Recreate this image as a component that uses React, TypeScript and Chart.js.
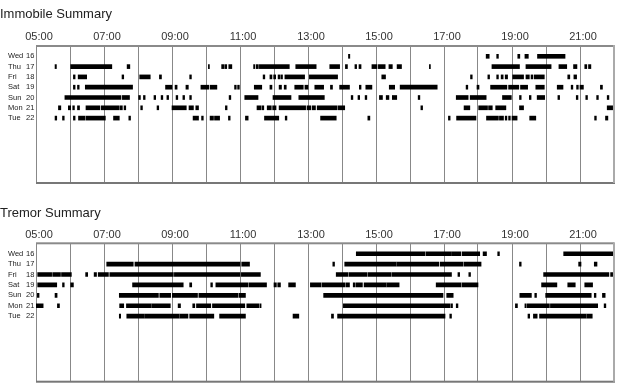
import React, { useEffect, useRef } from 'react';
import { Chart, registerables } from 'chart.js';

Chart.register(...registerables);

// ---------- labels ----------
const dayNames = ['Wed', 'Thu', 'Fri', 'Sat', 'Sun', 'Mon', 'Tue'];
const dayDates = ['16', '17', '18', '19', '20', '21', '22'];
const labeledHours = [5, 7, 9, 11, 13, 15, 17, 19, 21];
const hourLabels = ['05:00', '07:00', '09:00', '11:00', '13:00', '15:00', '17:00', '19:00', '21:00'];
const axisStart = 5;
const axisEnd = 22;

// ---------- Immobile Summary (hours of day, [start, end]) ----------
const immWed = [[14.19, 14.23], [18.24, 18.33], [18.55, 18.6], [19.17, 19.23], [19.38, 19.48], [19.75, 20.56]];
const immThu = [[5.56, 5.6], [6.02, 7.23], [7.68, 7.76], [10.07, 10.1], [10.46, 10.52], [10.55, 10.61], [10.67, 10.76], [11.4, 11.44], [11.48, 11.54], [11.57, 12.45], [12.64, 13.24], [13.64, 13.93], [14.1, 14.16], [14.38, 14.43], [14.5, 14.56], [14.88, 15.03], [15.07, 15.27], [15.38, 15.48], [15.62, 15.75], [16.57, 16.6], [18.41, 19.22], [19.41, 20.15], [20.38, 20.61], [20.81, 20.91], [21.14, 21.2], [21.25, 21.32]];
const immFri = [[6.1, 6.15], [6.24, 6.49], [7.53, 7.58], [8.05, 8.36], [8.63, 8.69], [9.52, 9.57], [11.68, 11.73], [11.88, 11.94], [11.99, 12.05], [12.12, 12.17], [12.2, 12.25], [12.32, 12.9], [13.04, 13.87], [15.17, 15.28], [17.78, 17.83], [18.29, 18.34], [18.55, 18.6], [18.68, 18.74], [18.8, 18.87], [19.02, 19.34], [19.41, 19.51], [19.56, 19.61], [19.65, 19.95], [20.64, 20.7], [20.82, 20.9]];
const immSat = [[6.1, 6.15], [6.22, 6.27], [6.45, 7.84], [8.81, 9.0], [9.09, 9.15], [9.41, 9.48], [9.85, 10.08], [10.12, 10.32], [10.84, 10.89], [10.93, 10.98], [11.42, 11.64], [11.88, 11.94], [12.15, 12.22], [12.3, 12.36], [12.61, 12.86], [12.91, 13.0], [13.2, 13.46], [13.66, 13.72], [13.93, 14.22], [14.51, 14.56], [14.7, 14.88], [15.39, 15.55], [15.71, 16.8], [17.65, 17.7], [17.97, 18.03], [18.37, 18.85], [18.9, 19.2], [19.25, 19.46], [19.7, 19.95], [20.33, 20.5], [20.74, 20.79], [20.9, 20.95], [21.0, 21.1], [21.6, 21.66]];
const immSun = [[5.85, 7.5], [7.54, 7.75], [8.02, 8.07], [8.16, 8.21], [8.47, 8.52], [8.68, 8.73], [8.85, 8.9], [9.12, 9.17], [9.32, 9.37], [9.52, 9.57], [10.68, 10.73], [11.14, 11.53], [11.97, 12.5], [12.73, 13.48], [14.27, 14.32], [14.47, 14.52], [14.68, 14.73], [15.1, 15.19], [15.3, 15.38], [15.48, 15.61], [16.24, 16.29], [17.36, 17.71], [17.77, 18.24], [18.72, 18.98], [19.22, 19.27], [19.51, 19.56], [19.74, 19.96], [20.35, 20.4], [20.89, 20.94], [21.17, 21.22], [21.49, 21.54], [21.8, 21.85]];
const immMon = [[5.66, 5.73], [5.95, 6.02], [6.08, 6.13], [6.22, 6.28], [6.47, 6.88], [6.92, 7.45], [7.48, 7.54], [7.59, 7.64], [8.08, 8.13], [8.56, 8.61], [9.0, 9.42], [9.5, 9.63], [9.7, 9.78], [10.57, 10.62], [11.5, 11.62], [11.65, 11.7], [11.8, 11.92], [11.96, 12.06], [12.15, 12.93], [12.97, 13.08], [13.12, 13.22], [13.27, 13.85], [13.88, 14.08], [16.32, 16.37], [17.59, 17.76], [18.02, 18.28], [18.31, 18.42], [18.52, 18.82], [19.22, 19.34], [21.8, 21.96]];
const immTue = [[5.56, 5.61], [5.78, 5.83], [6.1, 6.15], [6.25, 6.44], [6.47, 7.04], [7.28, 7.45], [7.73, 7.78], [9.62, 9.78], [9.87, 9.92], [10.12, 10.22], [10.25, 10.4], [10.66, 10.71], [11.16, 11.24], [11.72, 12.14], [12.33, 12.38], [13.37, 13.83], [14.76, 14.82], [17.13, 17.18], [17.37, 17.94], [18.25, 18.6], [18.63, 18.75], [18.8, 18.85], [18.9, 18.95], [19.0, 19.15], [19.52, 19.7], [21.43, 21.48], [21.75, 21.82]];

// ---------- Tremor Summary ----------
const trWed = [[14.42, 16.44], [16.47, 17.2], [17.22, 17.49], [17.53, 18.05], [18.15, 18.25], [18.58, 18.63], [20.52, 21.98]];
const trThu = [[7.08, 7.86], [7.91, 11.0], [11.05, 11.28], [13.73, 13.78], [14.08, 15.59], [15.61, 16.85], [16.89, 17.56], [17.59, 18.09], [19.22, 19.27], [20.96, 21.03], [21.42, 21.5]];
const trFri = [[5.05, 5.46], [5.49, 5.72], [5.75, 6.04], [6.46, 6.52], [6.71, 6.78], [6.83, 7.13], [7.17, 9.04], [9.07, 11.0], [11.04, 11.6], [13.83, 14.18], [14.21, 14.73], [14.76, 15.45], [15.48, 17.22], [17.41, 17.46], [17.73, 17.78], [19.93, 21.85], [21.9, 21.96]];
const trSat = [[5.05, 5.61], [5.78, 5.83], [6.02, 6.1], [7.84, 9.33], [9.52, 9.58], [10.14, 10.19], [10.29, 11.24], [11.27, 11.78], [12.0, 12.07], [12.11, 12.19], [12.43, 12.63], [13.07, 13.38], [13.41, 14.08], [14.11, 14.22], [14.33, 14.39], [14.42, 14.6], [14.65, 15.3], [15.32, 15.68], [16.77, 17.5], [17.53, 18.0], [19.87, 20.32], [20.64, 20.86], [21.14, 21.37]];
const trSun = [[5.04, 5.09], [5.56, 5.62], [7.45, 8.6], [8.64, 8.96], [9.01, 9.75], [9.79, 10.94], [10.97, 11.16], [13.46, 16.97], [17.08, 17.27], [19.23, 19.57], [19.67, 19.72], [19.99, 21.33], [21.42, 21.47], [21.66, 21.74]];
const trMon = [[5.0, 5.21], [5.63, 5.69], [7.46, 7.58], [7.66, 8.39], [8.41, 8.95], [9.18, 9.25], [9.61, 9.67], [9.72, 10.14], [10.19, 11.14], [11.2, 11.56], [11.59, 11.62], [14.04, 17.17], [17.2, 17.25], [17.36, 17.41], [19.1, 19.16], [19.38, 19.42], [19.45, 20.1], [20.13, 21.52], [21.71, 21.76]];
const trTue = [[7.45, 7.49], [7.67, 8.19], [8.21, 9.21], [9.23, 9.47], [9.52, 10.23], [10.4, 11.16], [12.56, 12.73], [13.69, 13.75], [13.87, 17.03], [17.17, 17.22], [19.47, 19.52], [19.63, 19.74], [19.81, 21.18], [21.2, 21.36]];

const immobileRows = [immWed, immThu, immFri, immSat, immSun, immMon, immTue];
const tremorRows = [trWed, trThu, trFri, trSat, trSun, trMon, trTue];

const FONT = "'Liberation Sans', Arial, sans-serif";

const framePlugin = {
  id: 'frame',
  afterDatasetsDraw(chart: any) {
    const { ctx, chartArea: a } = chart;
    ctx.save();
    ctx.fillStyle = '#8a8a8a';
    ctx.fillRect(a.left, a.top - 1, a.right - a.left, 2);
    ctx.fillStyle = '#777';
    ctx.fillRect(a.left, a.bottom - 1, a.right - a.left + 1, 2);
    ctx.fillStyle = '#aaa';
    ctx.fillRect(a.right - 1, a.top - 1, 2, a.bottom - a.top + 1);
    ctx.restore();
  },
};

const rowLabelPlugin = {
  id: 'rowLabels',
  afterDraw(chart: any) {
    const { ctx } = chart;
    const y = chart.scales.y;
    ctx.save();
    ctx.fillStyle = '#222';
    ctx.font = `7.5px ${FONT}`;
    ctx.textBaseline = 'middle';
    ctx.textAlign = 'left';
    dayNames.forEach((d, i) => {
      const py = y.getPixelForValue(i);
      ctx.fillText(d, 8, py);
      ctx.fillText(dayDates[i], 26, py);
    });
    ctx.restore();
  },
};

function Panel(props: { title: string; rows: number[][][]; height: number; padTop: number; padBottom: number; bottom: number }) {
  const ref = useRef<HTMLCanvasElement>(null);
  useEffect(() => {
    if (!ref.current) return;
    const data: any[] = [];
    props.rows.forEach((segs, i) => {
      segs.forEach((s) => data.push({ y: i, x: [s[0], s[1]] }));
    });
    const chart = new Chart(ref.current, {
      type: 'bar',
      data: {
        datasets: [
          {
            data,
            backgroundColor: '#000',
            borderWidth: 0,
            barThickness: 4,
          } as any,
        ],
      },
      plugins: [framePlugin, rowLabelPlugin],
      options: {
        indexAxis: 'y',
        animation: false,
        responsive: false,
        devicePixelRatio: 1,
        layout: { padding: { left: 0, right: 4, top: 0, bottom: props.bottom } },
        plugins: {
          legend: { display: false },
          tooltip: { enabled: false },
          title: {
            display: true,
            text: props.title,
            align: 'start',
            color: '#222',
            font: { family: FONT, size: 13, weight: 'normal' },
            padding: { top: props.padTop, bottom: props.padBottom },
          },
        },
        scales: {
          x: {
            type: 'linear',
            position: 'top',
            min: axisStart,
            max: axisEnd,
            afterFit: (s: any) => {
              s.height = 14;
            },
            grid: { color: '#888', lineWidth: 1, drawTicks: false },
            border: { display: false },
            ticks: {
              stepSize: 1,
              autoSkip: false,
              maxRotation: 0,
              padding: 2,
              labelOffset: 3,
              color: '#333',
              font: { family: FONT, size: 11 },
              callback: (v: any) => {
                const k = labeledHours.indexOf(Number(v));
                return k >= 0 ? hourLabels[k] : '';
              },
            },
          },
          y: {
            type: 'linear',
            reverse: true,
            min: -1,
            max: 12.3,
            offset: false,
            afterFit: (s: any) => {
              s.width = 36;
            },
            grid: { display: false },
            border: { display: false },
            ticks: { display: false },
          },
        },
      } as any,
    });
    return () => chart.destroy();
  }, []);
  return <canvas ref={ref} width={618} height={props.height} style={{ display: 'block', width: 618, height: props.height }} />;
}

export default function App() {
  return (
    <div style={{ position: 'fixed', left: 0, top: 0, width: 618, height: 388, background: '#fff' }}>
      <Panel title="Immobile Summary" rows={immobileRows} height={197} padTop={6.5} padBottom={9.9} bottom={14} />
      <Panel title="Tremor Summary" rows={tremorRows} height={191} padTop={8.2} padBottom={8.5} bottom={6.3} />
    </div>
  );
}
